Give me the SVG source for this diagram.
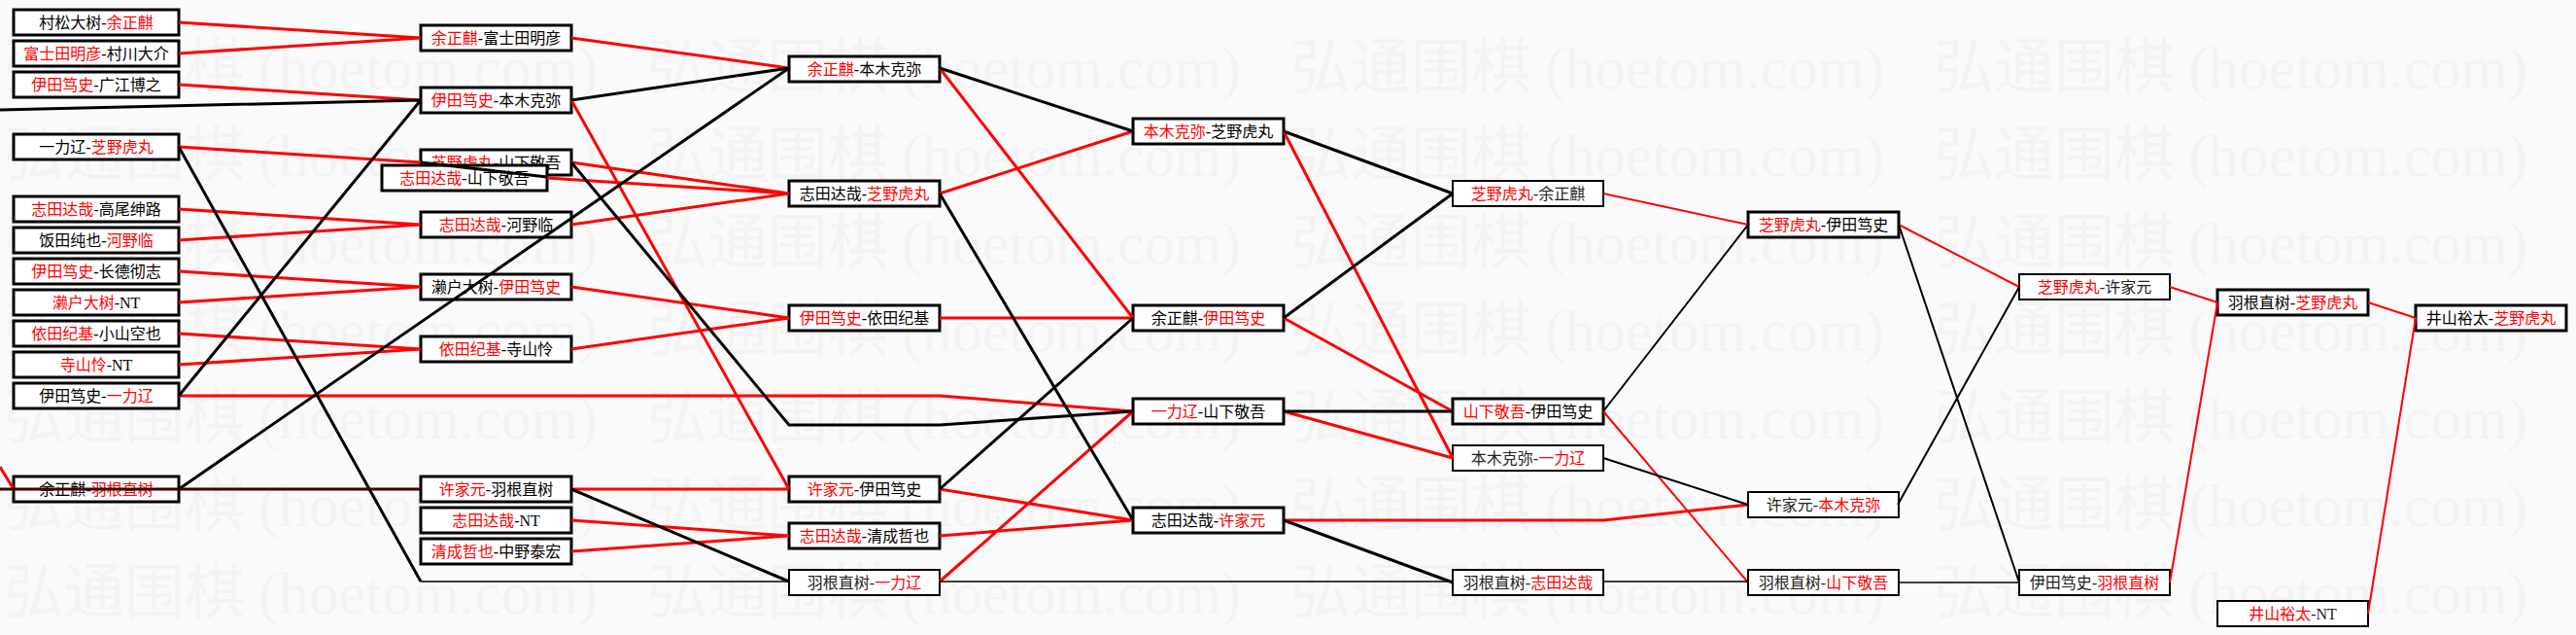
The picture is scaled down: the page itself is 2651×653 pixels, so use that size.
<svg xmlns="http://www.w3.org/2000/svg" width="2651" height="653" viewBox="0 0 2651 653">
<style>
.bg{fill:#fafafa}
.wm{font-family:"Noto Sans CJK SC",sans-serif;font-size:62px;fill:#f3f3f3}
.wl{font-family:"Liberation Serif",serif;font-size:62px;fill:#f3f3f3}
.n rect{fill:#fff;stroke:#000;stroke-width:3}
.n.t rect{stroke-width:2}
.n text{font-family:"Liberation Serif","Noto Sans CJK SC",serif;font-size:16px;text-anchor:middle;fill:#000}
.n.t text{fill:#222}
.r{fill:#f00}
.cr{stroke:#f00;fill:none;stroke-width:3}
.ck{stroke:#000;fill:none;stroke-width:3}
.c2{stroke-width:2}
.th{stroke-width:1.5}
</style>
<rect class="bg" x="0" y="0" width="2651" height="653"/>
<g id="watermark">
<text class="wm" x="4" y="91">弘通围棋</text><text class="wl" x="266" y="91">(hoetom.com)</text>
<text class="wm" x="666" y="91">弘通围棋</text><text class="wl" x="928" y="91">(hoetom.com)</text>
<text class="wm" x="1328" y="91">弘通围棋</text><text class="wl" x="1590" y="91">(hoetom.com)</text>
<text class="wm" x="1990" y="91">弘通围棋</text><text class="wl" x="2252" y="91">(hoetom.com)</text>
<text class="wm" x="4" y="181">弘通围棋</text><text class="wl" x="266" y="181">(hoetom.com)</text>
<text class="wm" x="666" y="181">弘通围棋</text><text class="wl" x="928" y="181">(hoetom.com)</text>
<text class="wm" x="1328" y="181">弘通围棋</text><text class="wl" x="1590" y="181">(hoetom.com)</text>
<text class="wm" x="1990" y="181">弘通围棋</text><text class="wl" x="2252" y="181">(hoetom.com)</text>
<text class="wm" x="4" y="271">弘通围棋</text><text class="wl" x="266" y="271">(hoetom.com)</text>
<text class="wm" x="666" y="271">弘通围棋</text><text class="wl" x="928" y="271">(hoetom.com)</text>
<text class="wm" x="1328" y="271">弘通围棋</text><text class="wl" x="1590" y="271">(hoetom.com)</text>
<text class="wm" x="1990" y="271">弘通围棋</text><text class="wl" x="2252" y="271">(hoetom.com)</text>
<text class="wm" x="4" y="361">弘通围棋</text><text class="wl" x="266" y="361">(hoetom.com)</text>
<text class="wm" x="666" y="361">弘通围棋</text><text class="wl" x="928" y="361">(hoetom.com)</text>
<text class="wm" x="1328" y="361">弘通围棋</text><text class="wl" x="1590" y="361">(hoetom.com)</text>
<text class="wm" x="1990" y="361">弘通围棋</text><text class="wl" x="2252" y="361">(hoetom.com)</text>
<text class="wm" x="4" y="451">弘通围棋</text><text class="wl" x="266" y="451">(hoetom.com)</text>
<text class="wm" x="666" y="451">弘通围棋</text><text class="wl" x="928" y="451">(hoetom.com)</text>
<text class="wm" x="1328" y="451">弘通围棋</text><text class="wl" x="1590" y="451">(hoetom.com)</text>
<text class="wm" x="1990" y="451">弘通围棋</text><text class="wl" x="2252" y="451">(hoetom.com)</text>
<text class="wm" x="4" y="541">弘通围棋</text><text class="wl" x="266" y="541">(hoetom.com)</text>
<text class="wm" x="666" y="541">弘通围棋</text><text class="wl" x="928" y="541">(hoetom.com)</text>
<text class="wm" x="1328" y="541">弘通围棋</text><text class="wl" x="1590" y="541">(hoetom.com)</text>
<text class="wm" x="1990" y="541">弘通围棋</text><text class="wl" x="2252" y="541">(hoetom.com)</text>
<text class="wm" x="4" y="631">弘通围棋</text><text class="wl" x="266" y="631">(hoetom.com)</text>
<text class="wm" x="666" y="631">弘通围棋</text><text class="wl" x="928" y="631">(hoetom.com)</text>
<text class="wm" x="1328" y="631">弘通围棋</text><text class="wl" x="1590" y="631">(hoetom.com)</text>
<text class="wm" x="1990" y="631">弘通围棋</text><text class="wl" x="2252" y="631">(hoetom.com)</text>
</g>
<g id="nodes">
<g id="c1n1" class="n"><rect x="14" y="10" width="170" height="26"/><text x="99" y="29">村松大树-<tspan class="r">余正麒</tspan></text></g>
<g id="c1n2" class="n"><rect x="14" y="42" width="170" height="26"/><text x="99" y="61"><tspan class="r">富士田明彦</tspan>-村川大介</text></g>
<g id="c1n3" class="n"><rect x="14" y="74" width="170" height="26"/><text x="99" y="93"><tspan class="r">伊田笃史</tspan>-广江博之</text></g>
<g id="c1n4" class="n"><rect x="14" y="138" width="170" height="26"/><text x="99" y="157">一力辽-<tspan class="r">芝野虎丸</tspan></text></g>
<g id="c1n5" class="n"><rect x="14" y="202" width="170" height="26"/><text x="99" y="221"><tspan class="r">志田达哉</tspan>-高尾绅路</text></g>
<g id="c1n6" class="n"><rect x="14" y="234" width="170" height="26"/><text x="99" y="253">饭田纯也-<tspan class="r">河野临</tspan></text></g>
<g id="c1n7" class="n"><rect x="14" y="266" width="170" height="26"/><text x="99" y="285"><tspan class="r">伊田笃史</tspan>-长德彻志</text></g>
<g id="c1n8" class="n"><rect x="14" y="298" width="170" height="26"/><text x="99" y="317"><tspan class="r">濑户大树</tspan>-NT</text></g>
<g id="c1n9" class="n"><rect x="14" y="330" width="170" height="26"/><text x="99" y="349"><tspan class="r">依田纪基</tspan>-小山空也</text></g>
<g id="c1n10" class="n"><rect x="14" y="362" width="170" height="26"/><text x="99" y="381"><tspan class="r">寺山怜</tspan>-NT</text></g>
<g id="c1n11" class="n"><rect x="14" y="394" width="170" height="26"/><text x="99" y="413">伊田笃史-<tspan class="r">一力辽</tspan></text></g>
<g id="c1n12" class="n"><rect x="14" y="490" width="170" height="26"/><text x="99" y="509">余正麒-<tspan class="r">羽根直树</tspan></text></g>

<g id="c2n1" class="n"><rect x="433" y="26" width="155" height="26"/><text x="510.5" y="45"><tspan class="r">余正麒</tspan>-富士田明彦</text></g>
<g id="c2n2" class="n"><rect x="433" y="90" width="155" height="26"/><text x="510.5" y="109"><tspan class="r">伊田笃史</tspan>-本木克弥</text></g>
<g id="c2n3" class="n"><rect x="433" y="154" width="155" height="26"/><text x="510.5" y="173"><tspan class="r">芝野虎丸</tspan>-山下敬吾</text></g>
<g id="c2n3b" class="n"><rect x="393" y="170" width="170" height="26"/><text x="478" y="189"><tspan class="r">志田达哉</tspan>-山下敬吾</text></g>
<g id="c2n4" class="n"><rect x="433" y="218" width="155" height="26"/><text x="510.5" y="237"><tspan class="r">志田达哉</tspan>-河野临</text></g>
<g id="c2n5" class="n"><rect x="433" y="282" width="155" height="26"/><text x="510.5" y="301">濑户大树-<tspan class="r">伊田笃史</tspan></text></g>
<g id="c2n6" class="n"><rect x="433" y="346" width="155" height="26"/><text x="510.5" y="365"><tspan class="r">依田纪基</tspan>-寺山怜</text></g>
<g id="c2n7" class="n"><rect x="433" y="490" width="155" height="26"/><text x="510.5" y="509"><tspan class="r">许家元</tspan>-羽根直树</text></g>
<g id="c2n8" class="n"><rect x="433" y="522" width="155" height="26"/><text x="510.5" y="541"><tspan class="r">志田达哉</tspan>-NT</text></g>
<g id="c2n9" class="n"><rect x="433" y="554" width="155" height="26"/><text x="510.5" y="573"><tspan class="r">清成哲也</tspan>-中野泰宏</text></g>

<g id="c3n1" class="n"><rect x="812" y="58" width="155" height="26"/><text x="889.5" y="77"><tspan class="r">余正麒</tspan>-本木克弥</text></g>
<g id="c3n2" class="n"><rect x="812" y="186" width="155" height="26"/><text x="889.5" y="205">志田达哉-<tspan class="r">芝野虎丸</tspan></text></g>
<g id="c3n3" class="n"><rect x="812" y="314" width="155" height="26"/><text x="889.5" y="333"><tspan class="r">伊田笃史</tspan>-依田纪基</text></g>
<g id="c3n4" class="n"><rect x="812" y="490" width="155" height="26"/><text x="889.5" y="509"><tspan class="r">许家元</tspan>-伊田笃史</text></g>
<g id="c3n5" class="n"><rect x="812" y="538" width="155" height="26"/><text x="889.5" y="557"><tspan class="r">志田达哉</tspan>-清成哲也</text></g>
<g id="c3n6" class="n t"><rect x="812" y="586" width="155" height="26"/><text x="889.5" y="605">羽根直树-<tspan class="r">一力辽</tspan></text></g>

<g id="c4n1" class="n"><rect x="1166" y="122" width="155" height="26"/><text x="1243.5" y="141"><tspan class="r">本木克弥</tspan>-芝野虎丸</text></g>
<g id="c4n2" class="n"><rect x="1166" y="314" width="155" height="26"/><text x="1243.5" y="333">余正麒-<tspan class="r">伊田笃史</tspan></text></g>
<g id="c4n3" class="n"><rect x="1166" y="410" width="155" height="26"/><text x="1243.5" y="429"><tspan class="r">一力辽</tspan>-山下敬吾</text></g>
<g id="c4n4" class="n"><rect x="1166" y="522" width="155" height="26"/><text x="1243.5" y="541">志田达哉-<tspan class="r">许家元</tspan></text></g>

<g id="c5n1" class="n t"><rect x="1495" y="186" width="155" height="26"/><text x="1572.5" y="205"><tspan class="r">芝野虎丸</tspan>-余正麒</text></g>
<g id="c5n2" class="n"><rect x="1495" y="410" width="155" height="26"/><text x="1572.5" y="429"><tspan class="r">山下敬吾</tspan>-伊田笃史</text></g>
<g id="c5n3" class="n t"><rect x="1495" y="458" width="155" height="26"/><text x="1572.5" y="477">本木克弥-<tspan class="r">一力辽</tspan></text></g>
<g id="c5n4" class="n t"><rect x="1495" y="586" width="155" height="26"/><text x="1572.5" y="605">羽根直树-<tspan class="r">志田达哉</tspan></text></g>

<g id="c6n1" class="n"><rect x="1799" y="218" width="155" height="26"/><text x="1876.5" y="237"><tspan class="r">芝野虎丸</tspan>-伊田笃史</text></g>
<g id="c6n2" class="n t"><rect x="1799" y="506" width="155" height="26"/><text x="1876.5" y="525">许家元-<tspan class="r">本木克弥</tspan></text></g>
<g id="c6n3" class="n t"><rect x="1799" y="586" width="155" height="26"/><text x="1876.5" y="605">羽根直树-<tspan class="r">山下敬吾</tspan></text></g>

<g id="c7n1" class="n t"><rect x="2078" y="282" width="155" height="26"/><text x="2155.5" y="301"><tspan class="r">芝野虎丸</tspan>-许家元</text></g>
<g id="c7n2" class="n t"><rect x="2078" y="586" width="155" height="26"/><text x="2155.5" y="605">伊田笃史-<tspan class="r">羽根直树</tspan></text></g>

<g id="c8n1" class="n"><rect x="2282" y="298" width="155" height="26"/><text x="2359.5" y="317">羽根直树-<tspan class="r">芝野虎丸</tspan></text></g>
<g id="c8n2" class="n t"><rect x="2282" y="618" width="155" height="26"/><text x="2359.5" y="637"><tspan class="r">井山裕太</tspan>-NT</text></g>

<g id="c9n1" class="n"><rect x="2486" y="314" width="155" height="26"/><text x="2563.5" y="333">井山裕太-<tspan class="r">芝野虎丸</tspan></text></g>
</g>
<g id="connectors">
<path class="cr" d="M184,23L433,39M184,55L433,39M184,87L433,103M184,151L433,167M184,215L433,231M184,247L433,231M184,279L433,295M184,311L433,295M184,343L433,359M184,375L433,359"/>
<path class="cr" d="M184,407L967,407L1166,423"/>
<path class="cr" d="M0,480L14,503"/>
<path class="cr" d="M588,39L812,70M588,103L812,503M588,167L812,199M563,183L812,199M588,231L812,199M588,295L812,327M588,359L812,327M588,503L812,503M588,535L812,551M588,567L812,551"/>
<path class="cr" d="M967,70L1166,327M967,199L1166,135M967,327L1166,327M967,503L1166,535M967,551L1166,535M967,598L1166,423"/>
<path class="cr" d="M1321,135L1495,471M1321,327L1495,423M1321,423L1495,471"/>
<path class="cr" d="M1321,535L1650,535L1799,519"/>
<path class="cr c2" d="M1650,199L1799,231M1650,423L1799,599M1954,231L2078,295M2233,295L2282,311M2233,599L2282,311M2437,311L2486,327M2437,631L2486,327"/>
<path class="ck" d="M0,113L433,103M184,151L433,598M184,407L433,103M184,503L812,70M588,103L812,70M588,503L812,598"/>
<path class="ck" d="M433,167L563,182"/>
<path class="ck" d="M588,167L812,437L967,437L1166,423"/>
<path class="ck" style="stroke:#400000" d="M0,503L433,503"/>
<path class="ck" d="M967,70L1166,135M967,199L1166,535M967,503L1166,327"/>
<path class="ck" d="M1321,135L1495,199M1321,327L1495,199M1321,423L1495,423M1321,535L1495,599"/>
<path class="ck c2" d="M1650,423L1799,231M1650,471L1799,519M1954,231L2078,599M1953,519L2078,295"/>
<path class="ck th" d="M433,598L812,598M967,598L1495,598M1650,598L1799,598M1953,599L2078,599"/>
</g>
</svg>
